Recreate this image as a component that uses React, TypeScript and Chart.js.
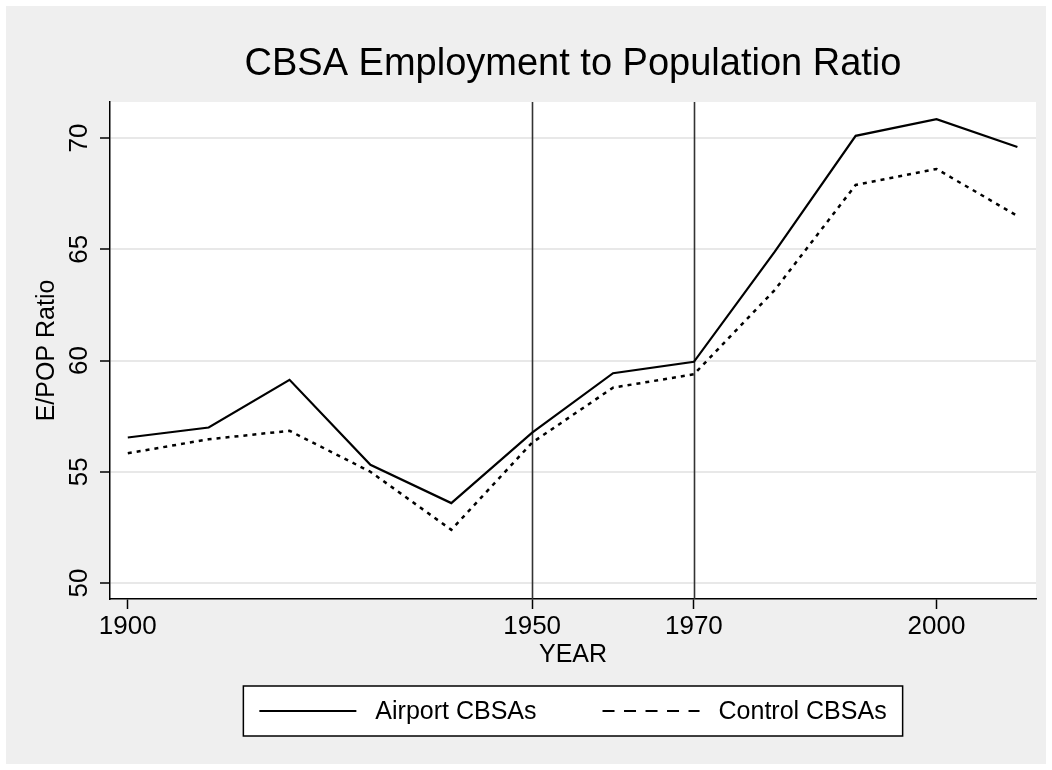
import React, { useEffect, useRef } from "react";
import { Chart, registerables } from "chart.js";

Chart.register(...registerables);

// ---- data ----
const years = [1900, 1910, 1920, 1930, 1940, 1950, 1960, 1970, 1980, 1990, 2000, 2010];
const airport = [56.54, 56.99, 59.13, 55.31, 53.59, 56.76, 59.43, 59.94, 64.89, 70.1, 70.85, 69.6];
const control = [55.83, 56.46, 56.84, 55.0, 52.39, 56.31, 58.78, 59.38, 63.17, 67.89, 68.61, 66.5];
const seriesLabels = ["Airport CBSAs", "Control CBSAs"];
const xTickValues = [1900, 1950, 1970, 2000];
const yTickValues = [50, 55, 60, 65, 70];
const refYears = [1950, 1970];
const titleText = "CBSA Employment to Population Ratio";
const xTitleText = "YEAR";
const yTitleText = "E/POP Ratio";

const FONT = '"Liberation Sans", Arial, Helvetica, sans-serif';

const decorPlugin = {
  id: "stataDecor",
  beforeDraw(chart: any) {
    const { ctx, chartArea } = chart;
    ctx.save();
    ctx.fillStyle = "#ffffff";
    ctx.fillRect(chartArea.left, chartArea.top, chartArea.right - chartArea.left, chartArea.bottom - chartArea.top);
    ctx.restore();
  },
  beforeDatasetsDraw(chart: any) {
    const { ctx, chartArea, scales } = chart;
    ctx.save();
    ctx.strokeStyle = "#333333";
    ctx.lineWidth = 1.6;
    refYears.forEach((yr) => {
      const x = Math.round(scales.x.getPixelForValue(yr)) + 0.5;
      ctx.beginPath();
      ctx.moveTo(x, chartArea.top);
      ctx.lineTo(x, chartArea.bottom);
      ctx.stroke();
    });
    ctx.restore();
  },
  afterDraw(chart: any) {
    const { ctx, chartArea } = chart;
    const cx = (chartArea.left + chartArea.right) / 2;
    ctx.save();
    // title
    ctx.fillStyle = "#000000";
    ctx.font = `38px ${FONT}`;
    ctx.textAlign = "center";
    ctx.textBaseline = "middle";
    ctx.fillText(titleText, cx, 59);

    // legend
    const fs = 25;
    ctx.font = `${fs}px ${FONT}`;
    const pad = 16, lineLen = 97, gap = 19, itemGap = 66;
    const ds = chart.data.datasets;
    const widths = ds.map((d: any) => ctx.measureText(d.label).width);
    const total = pad * 2 + ds.length * (lineLen + gap) + widths.reduce((a: number, b: number) => a + b, 0) + itemGap * (ds.length - 1);
    const boxTop = 680, boxH = 50;
    const boxLeft = cx - total / 2;
    ctx.fillStyle = "#ffffff";
    ctx.fillRect(boxLeft, boxTop, total, boxH);
    ctx.strokeStyle = "#000000";
    ctx.lineWidth = 1.5;
    ctx.strokeRect(boxLeft, boxTop, total, boxH);
    const midY = boxTop + boxH / 2;
    let x = boxLeft + pad;
    ds.forEach((d: any, i: number) => {
      ctx.strokeStyle = "#000000";
      ctx.lineWidth = 2;
      ctx.setLineDash(i === 0 ? [] : [12, 9.5]);
      ctx.beginPath();
      ctx.moveTo(x, midY);
      ctx.lineTo(x + lineLen, midY);
      ctx.stroke();
      ctx.setLineDash([]);
      x += lineLen + gap;
      ctx.fillStyle = "#000000";
      ctx.textAlign = "left";
      ctx.textBaseline = "middle";
      ctx.fillText(d.label, x, midY + 1);
      x += widths[i] + itemGap;
    });
    ctx.restore();
  },
};

export default function App() {
  const canvasRef = useRef<HTMLCanvasElement | null>(null);

  useEffect(() => {
    document.body.style.margin = "0";
    const canvas = canvasRef.current;
    if (!canvas) return;
    const chart = new Chart(canvas, {
      type: "line",
      data: {
        datasets: [
          {
            label: seriesLabels[0],
            data: years.map((x, i) => ({ x, y: airport[i] })),
            borderColor: "#000000",
            borderWidth: 2.2,
            pointRadius: 0,
            tension: 0,
            fill: false,
          },
          {
            label: seriesLabels[1],
            data: years.map((x, i) => ({ x, y: control[i] })),
            borderColor: "#000000",
            borderWidth: 2.5,
            borderDash: [4, 5],
            pointRadius: 0,
            tension: 0,
            fill: false,
          },
        ],
      },
      plugins: [decorPlugin],
      options: {
        animation: false,
        responsive: false,
        devicePixelRatio: 1,
        layout: { padding: { top: 96, right: 10, bottom: 90, left: 0 } },
        plugins: {
          legend: { display: false },
          title: { display: false },
          tooltip: { enabled: false },
        },
        scales: {
          x: {
            type: "linear",
            min: 1897.8,
            max: 2012.3,
            afterBuildTicks: (scale: any) => {
              scale.ticks = xTickValues.map((v) => ({ value: v }));
            },
            afterFit: (scale: any) => {
              scale.height = 75;
            },
            grid: {
              drawOnChartArea: false,
              drawTicks: true,
              tickLength: 10,
              tickColor: "#000000",
              tickWidth: 1.5,
            },
            border: { display: true, color: "#000000", width: 1.5 },
            ticks: {
              color: "#000000",
              font: { family: FONT, size: 26 },
              padding: 2,
              maxRotation: 0,
              minRotation: 0,
              autoSkip: false,
              callback: (v: any) => String(v),
            },
            title: {
              display: true,
              text: xTitleText,
              color: "#000000",
              font: { family: FONT, size: 25, lineHeight: 1.2 },
              padding: { top: 0, bottom: 3.5 },
            },
          },
          y: {
            type: "linear",
            min: 49.28,
            max: 71.62,
            afterBuildTicks: (scale: any) => {
              scale.ticks = yTickValues.map((v) => ({ value: v }));
            },
            afterFit: (scale: any) => {
              scale.width = 104;
            },
            grid: {
              color: "#e8e8e8",
              lineWidth: 2,
              drawTicks: true,
              tickLength: 10,
              tickColor: "#000000",
              tickWidth: 1.5,
            },
            border: { display: true, color: "#000000", width: 1.5 },
            ticks: {
              color: "#000000",
              font: { family: FONT, size: 26 },
              padding: 6,
              minRotation: 90,
              maxRotation: 90,
              crossAlign: "center",
              autoSkip: false,
              callback: (v: any) => String(v),
            },
            title: {
              display: true,
              text: yTitleText,
              color: "#000000",
              font: { family: FONT, size: 25, lineHeight: 1.2 },
              padding: { top: 26, bottom: 0 },
            },
          },
        },
      } as any,
    });
    return () => chart.destroy();
  }, []);

  return (
    <div style={{ width: 1052, height: 770, background: "#ffffff", padding: 6, boxSizing: "border-box" }}>
      <canvas ref={canvasRef} width={1040} height={758} style={{ display: "block", background: "#efefef" }} />
    </div>
  );
}
